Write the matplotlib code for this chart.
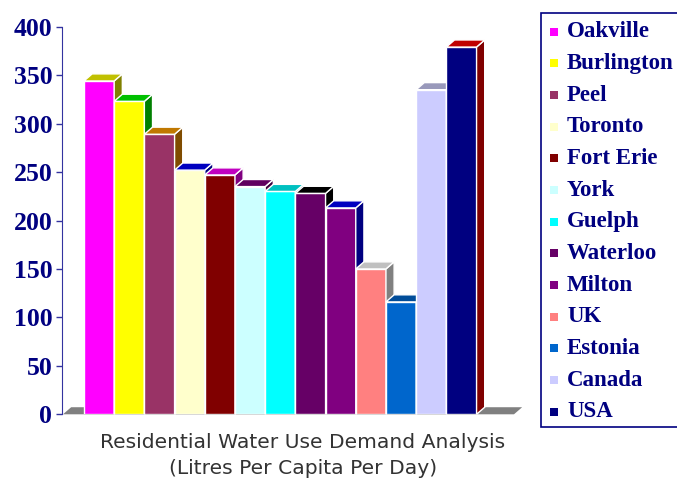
import matplotlib
matplotlib.use('Agg')
import matplotlib.pyplot as plt
from matplotlib.patches import Polygon, Rectangle

# data
places = ["Oakville", "Burlington", "Peel", "Toronto", "Fort Erie", "York", "Guelph",
          "Waterloo", "Milton", "UK", "Estonia", "Canada", "USA"]
litres = [344, 323, 289, 252, 247, 235, 230, 228, 213, 150, 116, 335, 379]

# front / top / side colours of each 3d bar
front_cols = ["#ff00ff", "#ffff00", "#993366", "#ffffcc", "#800000", "#ccffff", "#00ffff",
              "#660066", "#800080", "#ff8080", "#0066cc", "#ccccff", "#000080"]
top_cols = ["#c0c000", "#00c000", "#c07800", "#0000c0", "#c000c0", "#600060", "#00c0c0",
            "#000000", "#0000c0", "#c0c0c0", "#004c99", "#9999bb", "#c00000"]
side_cols = ["#808000", "#008000", "#804c00", "#000080", "#800080", "#400040", "#008080",
             "#000000", "#000080", "#808080", "#003366", "#666699", "#800000"]

navy = "#000080"
W, H = 677, 482

fig = plt.figure(figsize=(W / 100, H / 100), dpi=100)
ax = fig.add_axes([62 / W, (H - 414.3) / H, (530 - 62) / W, (414.3 - 26.7) / H])

dx, dy = 0.27, 7.3

# grey floor under the bars
floor = Polygon([(-1.195, 0), (13.74, 0), (13.74 + dx, dy), (-1.195 + dx, dy)],
                closed=True, facecolor="#808080", edgecolor="none", zorder=1, clip_on=False)
ax.add_patch(floor)

for i, v in enumerate(litres):
    x0, x1 = i - 0.5, i + 0.5
    z = 3 + i
    ax.bar(i, v, width=1.0, color=front_cols[i], edgecolor="white", linewidth=1.0, zorder=z)
    top = Polygon([(x0, v), (x1, v), (x1 + dx, v + dy), (x0 + dx, v + dy)], closed=True,
                  facecolor=top_cols[i], edgecolor="white", linewidth=1.0, zorder=z, clip_on=False)
    side = Polygon([(x1, 0), (x1 + dx, dy), (x1 + dx, v + dy), (x1, v)], closed=True,
                   facecolor=side_cols[i], edgecolor="white", linewidth=1.0, zorder=z, clip_on=False)
    ax.add_patch(side)
    ax.add_patch(top)

ax.set_xlim(-1.228, 14.27)
ax.set_ylim(0, 400)
ax.set_yticks(range(0, 401, 50))
ax.set_xticks([])
for s in ["top", "right", "bottom"]:
    ax.spines[s].set_visible(False)
ax.spines["left"].set_color("#3333a0")
ax.tick_params(axis="y", colors="#3333a0", length=4, width=1, pad=3)
for lab in ax.get_yticklabels():
    lab.set_fontfamily("Liberation Serif")
    lab.set_fontweight("bold")
    lab.set_fontsize(18.5)
    lab.set_color(navy)

fig.text(303 / W, 1 - 443 / H, "Residential Water Use Demand Analysis",
         ha="center", va="center", fontsize=14.6, color="#333333", family="DejaVu Sans")
fig.text(303 / W, 1 - 468 / H, "(Litres Per Capita Per Day)",
         ha="center", va="center", fontsize=14.6, color="#333333", family="DejaVu Sans")

# legend box, drawn by hand (runs off the right edge as in the original)
fig.add_artist(Rectangle((541 / W, 1 - 427 / H), 220 / W, (427 - 13) / H,
                         transform=fig.transFigure, facecolor="white", edgecolor=navy,
                         linewidth=1.2))
for k, name in enumerate(places):
    yc = 31.7 + k * 31.67
    fig.add_artist(Rectangle((550 / W, 1 - (yc + 4) / H), 8 / W, 8 / H,
                             transform=fig.transFigure, facecolor=front_cols[k],
                             edgecolor="none"))
    fig.text(567 / W, 1 - yc / H, name, ha="left", va="center", fontsize=16.5,
             fontweight="bold", family="Liberation Serif", color=navy)

fig.savefig("out.png", dpi=100)
